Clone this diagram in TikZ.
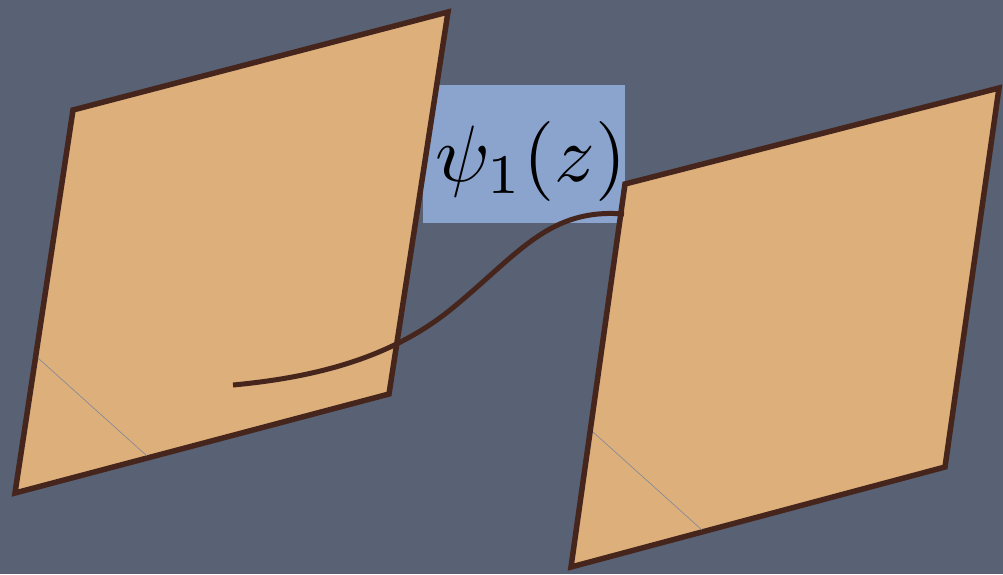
\documentclass[tikz,border=0pt]{standalone}
\definecolor{bgslate}{RGB}{89,97,117}
\definecolor{tanfill}{RGB}{221,175,123}
\definecolor{edgebrown}{RGB}{70,38,28}
\definecolor{boxblue}{RGB}{138,164,206}
\definecolor{faintline}{RGB}{125,135,155}
\tikzset{
  plane/.style={fill=tanfill, draw=edgebrown, line width=5.5pt, line join=miter},
  crease/.style={draw=faintline, line width=0.6pt},
  mapcurve/.style={draw=edgebrown, line width=5pt, line cap=butt},
}
\begin{document}
\begin{tikzpicture}[x=1pt,y=-1pt]
\fill[bgslate] (0,0) rectangle (1003,574);
\useasboundingbox (0,0) rectangle (1003,574);
% label box
\node[fill=boxblue, inner sep=0pt, minimum width=202pt, minimum height=138pt, anchor=north west] (lbl) at (423,85) {};
% left plane
\coordinate (A1) at (73,110);
\coordinate (A2) at (448,12);
\coordinate (A3) at (389,394);
\coordinate (A4) at (15,493);
\path[plane] (A1) -- (A2) -- (A3) -- (A4) -- cycle;
\coordinate (a1) at (38,358);
\coordinate (a2) at (147,456);
\draw[crease] (a1) -- (a2);
% right plane
\coordinate (B1) at (625,184);
\coordinate (B2) at (999,88);
\coordinate (B3) at (945,467);
\coordinate (B4) at (571,567);
\path[plane] (B1) -- (B2) -- (B3) -- (B4) -- cycle;
\coordinate (b1) at (593,432);
\coordinate (b2) at (702,530);
\draw[crease] (b1) -- (b2);
% curve
\coordinate (cs) at (233,385);
\coordinate (cm) at (455,306);
\coordinate (ce) at (624,214);
\draw[mapcurve] (cs) .. controls (330,376) and (400,352) .. (cm)
  .. controls (520,252) and (550,208) .. (ce);
% label text
\node[anchor=base, inner sep=0pt, scale=8] (psi) at (531,181) {$\psi_1(z)$};
\end{tikzpicture}
\end{document}
